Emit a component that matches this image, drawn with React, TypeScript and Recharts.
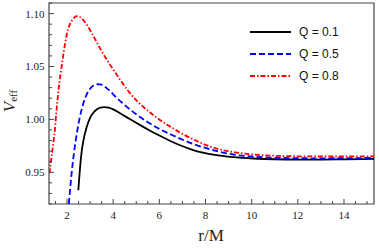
import { LineChart, Line, XAxis, YAxis, Legend, ReferenceArea } from 'recharts'

// tick marks (frame ticks point inward, labels only on the majors)
const xMajor = [2, 4, 6, 8, 10, 12, 14]
const xTicks = [1.5, 2, 2.5, 3, 3.5, 4, 4.5, 5, 5.5, 6, 6.5, 7, 7.5, 8, 8.5, 9, 9.5, 10, 10.5, 11, 11.5, 12, 12.5, 13, 13.5, 14, 14.5, 15]
const yMajor = [0.95, 1.0, 1.05, 1.1]
const yTicks = [0.92, 0.93, 0.94, 0.95, 0.96, 0.97, 0.98, 0.99, 1.0, 1.01, 1.02, 1.03, 1.04, 1.05, 1.06, 1.07, 1.08, 1.09, 1.1, 1.11]

// Q = 0.1
const rQ01 = [2.49, 2.56, 2.63, 2.72, 2.85, 3.0, 3.15, 3.3, 3.45, 3.62, 3.8, 4.0, 4.3, 4.72, 5.15, 5.6, 6.0, 6.5, 6.9, 7.5, 8.4, 9.2, 10.1, 11, 12, 13, 14, 15.3]
const vQ01 = [0.933, 0.953, 0.9685, 0.981, 0.9925, 1.0015, 1.0065, 1.0095, 1.011, 1.0115, 1.011, 1.0095, 1.0058, 1.0003, 0.9948, 0.9893, 0.9847, 0.9793, 0.9755, 0.9707, 0.9664, 0.9643, 0.963, 0.9623, 0.962, 0.962, 0.9622, 0.9626]

// Q = 0.5
const rQ05 = [2.08, 2.14, 2.2, 2.3, 2.42, 2.55, 2.7, 2.85, 3.0, 3.15, 3.3, 3.45, 3.6, 3.85, 4.1, 4.4, 4.72, 5.15, 5.6, 6.0, 6.5, 6.9, 7.5, 8.4, 9.2, 10.1, 11, 12, 13, 14, 15.3]
const vQ05 = [0.92, 0.935, 0.949, 0.968, 0.986, 1.0015, 1.0145, 1.0235, 1.029, 1.032, 1.0332, 1.033, 1.0315, 1.027, 1.0215, 1.0155, 1.0095, 1.0025, 0.996, 0.991, 0.9857, 0.9818, 0.9765, 0.9705, 0.9668, 0.9647, 0.9637, 0.9633, 0.9632, 0.9633, 0.9636]

// Q = 0.8
const rQ08 = [1.24, 1.32, 1.41, 1.48, 1.55, 1.65, 1.77, 1.9, 2.05, 2.2, 2.3, 2.42, 2.55, 2.7, 2.9, 3.2, 3.5, 3.93, 4.3, 4.72, 5.15, 5.6, 6.0, 6.5, 6.9, 7.5, 8.4, 9.2, 10.1, 11, 12, 13, 14, 15.3]
const vQ08 = [0.949, 0.963, 0.978, 0.9915, 1.0095, 1.031, 1.0506, 1.0695, 1.0854, 1.093, 1.096, 1.0975, 1.0968, 1.094, 1.088, 1.0765, 1.0645, 1.0495, 1.0375, 1.025, 1.0148, 1.0065, 0.9998, 0.9928, 0.9875, 0.9808, 0.9728, 0.9692, 0.9667, 0.9656, 0.9651, 0.9649, 0.9649, 0.9651]

const toPoints = (r: number[], v: number[]) => r.map((x, i) => ({ r: x, v: v[i] }))

const series = [
  { name: 'Q = 0.1', data: toPoints(rQ01, vQ01), color: '#000000', dash: undefined },
  { name: 'Q = 0.5', data: toPoints(rQ05, vQ05), color: '#0000ff', dash: '6 3' },
  { name: 'Q = 0.8', data: toPoints(rQ08, vQ08), color: '#ff0000', dash: '5 2 1.5 2' },
]

const W = 379
const H = 249
const PLOT = { left: 49, right: 374, top: 3, bottom: 204 }
const FRAME = '#444'
const serif = '"Liberation Serif", "DejaVu Serif", serif'

const BottomTick = ({ x, payload }: any) => {
  const major = xMajor.includes(payload.value)
  return (
    <g>
      <line x1={x} x2={x} y1={PLOT.bottom} y2={PLOT.bottom - (major ? 5 : 3)} stroke={FRAME} />
      {major && (
        <text x={x} y={PLOT.bottom + 15} textAnchor="middle" fontFamily={serif} fontSize={11} fill="#222">
          {payload.value}
        </text>
      )}
    </g>
  )
}

const TopTick = ({ x, payload }: any) => {
  const major = xMajor.includes(payload.value)
  return <line x1={x} x2={x} y1={PLOT.top} y2={PLOT.top + (major ? 5 : 3)} stroke={FRAME} />
}

const LeftTick = ({ y, payload }: any) => {
  const major = yMajor.includes(payload.value)
  return (
    <g>
      <line x1={PLOT.left} x2={PLOT.left + (major ? 5 : 3)} y1={y} y2={y} stroke={FRAME} />
      {major && (
        <text x={44.5} y={y + 4} textAnchor="end" fontFamily={serif} fontSize={11} fill="#222">
          {payload.value.toFixed(2)}
        </text>
      )}
    </g>
  )
}

const RightTick = ({ y, payload }: any) => {
  const major = yMajor.includes(payload.value)
  return <line x1={PLOT.right} x2={PLOT.right - (major ? 5 : 3)} y1={y} y2={y} stroke={FRAME} />
}

const XTitle = () => (
  <text x={211} y={241} textAnchor="middle" fontFamily={serif} fontSize={17} fill="#222">
    r/M
  </text>
)

const YTitle = () => (
  <text x={15} y={101} transform="rotate(-90 15 101)" textAnchor="middle" fontFamily={serif} fill="#222">
    <tspan fontSize={17} fontStyle="italic">V</tspan>
    <tspan fontSize={11} dy={1.5}>eff</tspan>
  </text>
)

const LegendBox = () => (
  <div style={{ fontFamily: '"Liberation Sans", Arial, sans-serif', fontSize: 12, color: '#111' }}>
    {series.map(s => (
      <div key={s.name} style={{ display: 'flex', alignItems: 'center', height: 21.7 }}>
        <svg width={41} height={4} style={{ display: 'block' }}>
          <line x1={0} x2={41} y1={2} y2={2} stroke={s.color} strokeWidth={1.8} strokeDasharray={s.dash} />
        </svg>
        <span style={{ marginLeft: 8 }}>{s.name}</span>
      </div>
    ))}
  </div>
)

export default function App() {
  return (
    <div style={{ position: 'absolute', left: 0, top: 0, width: W, height: H, background: '#fff' }}>
      <LineChart
        width={W}
        height={H}
        margin={{ top: PLOT.top, right: W - PLOT.right, bottom: 0, left: 0 }}
      >
        <XAxis
          xAxisId="b"
          dataKey="r"
          type="number"
          domain={[1.22, 15.3]}
          allowDataOverflow
          ticks={xTicks}
          interval={0}
          tick={<BottomTick />}
          tickLine={false}
          axisLine={false}
          height={H - PLOT.bottom}
          label={<XTitle />}
        />
        <XAxis
          xAxisId="t"
          orientation="top"
          dataKey="r"
          type="number"
          domain={[1.22, 15.3]}
          allowDataOverflow
          ticks={xTicks}
          interval={0}
          tick={<TopTick />}
          tickLine={false}
          axisLine={false}
          height={0}
        />
        <YAxis
          yAxisId="l"
          type="number"
          domain={[0.92, 1.11]}
          allowDataOverflow
          ticks={yTicks}
          interval={0}
          tick={<LeftTick />}
          tickLine={false}
          axisLine={false}
          width={PLOT.left}
          label={<YTitle />}
        />
        <YAxis
          yAxisId="r"
          orientation="right"
          type="number"
          domain={[0.92, 1.11]}
          allowDataOverflow
          ticks={yTicks}
          interval={0}
          tick={<RightTick />}
          tickLine={false}
          axisLine={false}
          width={0}
        />
        <Legend
          layout="horizontal"
          align="center"
          verticalAlign="middle"
          content={<LegendBox />}
          wrapperStyle={{ position: 'absolute', left: 250, top: 21.5, width: 'auto', height: 'auto' }}
        />
        {series.map(s => (
          <Line
            key={s.name}
            xAxisId="b"
            yAxisId="l"
            data={s.data}
            dataKey="v"
            name={s.name}
            type="monotone"
            stroke={s.color}
            strokeWidth={1.8}
            strokeDasharray={s.dash}
            dot={false}
            activeDot={false}
            isAnimationActive={false}
          />
        ))}
        <ReferenceArea
          xAxisId="b"
          yAxisId="l"
          x1={1.22}
          x2={15.3}
          y1={0.92}
          y2={1.11}
          fill="none"
          stroke={FRAME}
          strokeWidth={1.2}
          ifOverflow="visible"
        />
      </LineChart>
    </div>
  )
}
